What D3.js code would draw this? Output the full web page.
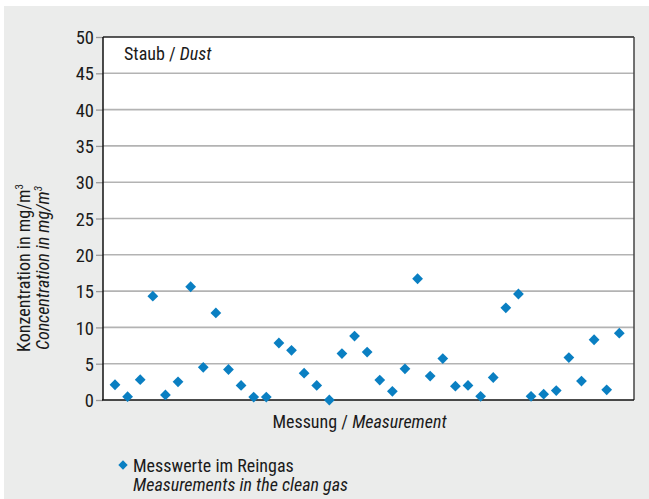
<!DOCTYPE html>
<html><head><meta charset="utf-8">
<script src="https://cdn.jsdelivr.net/npm/d3@7"></script>
<style>
html,body{margin:0;padding:0;background:#fff;}
svg{display:block;}
text{font-family:"Liberation Sans Narrow","Arial Narrow","Roboto Condensed","Liberation Sans",sans-serif;fill:#1a1a1a;}
</style></head>
<body>
<script>
// Data
const measurementIndex = d3.range(1, 42);
const dustValues = [2.1,0.45,2.8,14.3,0.7,2.5,15.6,4.5,12.0,4.2,2.0,0.4,0.4,7.85,6.85,3.7,2.0,0.0,6.4,8.8,6.6,2.75,1.2,4.3,16.7,3.3,5.7,1.9,2.0,0.5,3.1,12.7,14.6,0.5,0.8,1.3,5.85,2.6,8.3,1.4,9.2];
const yTicks = [0,5,10,15,20,25,30,35,40,45,50];
const yLabelLines = ["Konzentration in mg/m", "Concentration in mg/m"];
const xLabel = ["Messung / ", "Measurement"];
const panelTitle = ["Staub / ", "Dust"];
const legendLines = ["Messwerte im Reingas", "Measurements in the clean gas"];

const W = 649, H = 499;
const plot = {left: 103, right: 634, top: 37, bottom: 400};
const blue = "#0a7fc2";

const svg = d3.select("body").append("svg").attr("width", W).attr("height", H);
svg.append("rect").attr("x", 4).attr("y", 6).attr("width", W - 4).attr("height", H - 6).attr("fill", "#ebeceb");
svg.append("rect").attr("x", plot.left).attr("y", plot.top).attr("width", plot.right - plot.left).attr("height", plot.bottom - plot.top).attr("fill", "#fff");

const y = d3.scaleLinear().domain([0, 50]).range([plot.bottom, plot.top]);
const x = d3.scaleLinear().domain([1, 41]).range([115, 619.3]);

// gridlines
svg.append("g").selectAll("line").data(yTicks.filter(t => t > 0 && t < 50)).join("line")
  .attr("x1", plot.left).attr("x2", plot.right)
  .attr("y1", d => y(d)).attr("y2", d => y(d))
  .attr("stroke", "#b3b3b3").attr("stroke-width", 1.6);

// y axis
const yAxis = d3.axisLeft(y).tickValues(yTicks).tickSize(7).tickPadding(2);
const ga = svg.append("g").attr("transform", `translate(${plot.left},0)`).call(yAxis);
ga.select(".domain").remove();
ga.selectAll(".tick line").attr("stroke", "#9a9a9a").attr("stroke-width", 1.3);
ga.selectAll(".tick text").attr("font-size", 18.5).attr("fill", "#1a1a1a").attr("dy", "0.36em")
  .style("font-family", '"Liberation Sans Narrow","Arial Narrow","Roboto Condensed",sans-serif');

// frame
svg.append("line").attr("x1", plot.left).attr("x2", plot.right).attr("y1", plot.top).attr("y2", plot.top).attr("stroke", "#222").attr("stroke-width", 1.5);
svg.append("line").attr("x1", plot.right).attr("x2", plot.right).attr("y1", plot.top).attr("y2", plot.bottom).attr("stroke", "#444").attr("stroke-width", 1.5);
svg.append("line").attr("x1", plot.left).attr("x2", plot.left).attr("y1", plot.top).attr("y2", plot.bottom).attr("stroke", "#111").attr("stroke-width", 1.5);
svg.append("line").attr("x1", plot.left - 1).attr("x2", plot.right).attr("y1", plot.bottom).attr("y2", plot.bottom).attr("stroke", "#111").attr("stroke-width", 1.5);

// points
svg.append("g").selectAll("path").data(dustValues).join("path")
  .attr("d", d3.symbol().type(d3.symbolSquare).size(58))
  .attr("transform", (d, i) => `translate(${x(measurementIndex[i])},${y(d)}) rotate(45)`)
  .attr("fill", blue);

// panel title
const t = svg.append("text").attr("x", 124).attr("y", 60).attr("font-size", 18);
t.append("tspan").text(panelTitle[0]);
t.append("tspan").attr("font-style", "italic").text(panelTitle[1]);

// y label
const yl = svg.append("g").attr("transform", "translate(0,268) rotate(-90)");
const l1 = yl.append("text").attr("x", 0).attr("y", 30).attr("text-anchor", "middle").attr("font-size", 18);
l1.append("tspan").text(yLabelLines[0]);
l1.append("tspan").attr("font-size", 11).attr("dy", -7).text("3");
const l2 = yl.append("text").attr("x", 0).attr("y", 49).attr("text-anchor", "middle").attr("font-size", 18).attr("font-style", "italic");
l2.append("tspan").text(yLabelLines[1]);
l2.append("tspan").attr("font-size", 11).attr("dy", -7).text("3");

// x label
const xl = svg.append("text").attr("x", 359.5).attr("y", 428).attr("text-anchor", "middle").attr("font-size", 18);
xl.append("tspan").text(xLabel[0]);
xl.append("tspan").attr("font-style", "italic").text(xLabel[1]);

// legend
svg.append("path").attr("d", d3.symbol().type(d3.symbolSquare).size(44))
  .attr("transform", "translate(123,465) rotate(45)").attr("fill", blue);
svg.append("text").attr("x", 133).attr("y", 472).attr("font-size", 18).text(legendLines[0]);
svg.append("text").attr("x", 133).attr("y", 491).attr("font-size", 18).attr("font-style", "italic").text(legendLines[1]);
</script>
</body></html>
